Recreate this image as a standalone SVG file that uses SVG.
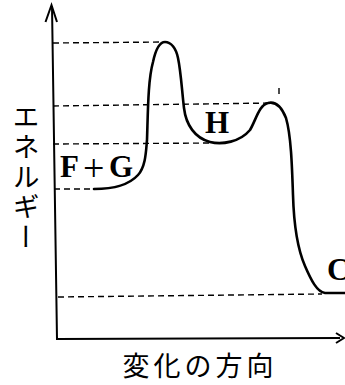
<svg xmlns="http://www.w3.org/2000/svg" width="345" height="385" viewBox="0 0 345 385">
<style>
.axis{stroke:#000;stroke-width:2;fill:none}
.dash{stroke:#000;stroke-width:1.4;stroke-dasharray:6 4;fill:none}
.curve{stroke:#000;stroke-width:2.6;fill:none;stroke-linecap:round;stroke-linejoin:round}
.lbl{font-family:"Liberation Serif","Times New Roman",serif;font-weight:bold;font-size:31px;fill:#000}
.jp{font-family:"Noto Sans CJK JP","Noto Sans CJK SC",sans-serif;font-size:27px;fill:#000}
</style>
<rect width="345" height="385" fill="#fff"/>
<g id="axes">
<path class="axis" d="M52,6 L57,339 L340,338"/>
<path class="axis" d="M45.5,22 L51.5,5 L57,22" stroke-width="1.6"/>
<path class="axis" d="M336,333 L344,338 L336,343" stroke-width="1.3"/>
</g>
<g id="connectors">
<path class="dash" d="M53,43 L164,42"/>
<path class="dash" d="M53,106 L272,103"/>
<path class="dash" d="M53,144 L214,143"/>
<path class="dash" d="M54,189 L98,189"/>
<path class="dash" d="M58,297 L322,294"/>
<path class="dash" d="M279,88 L279,97" stroke-width="1" stroke-dasharray="2 2"/>
</g>
<g id="curve">
<path class="curve" d="M94,189 C112,189 128,186 138,175 C146,166 146,150 147,140 C148,110 148,80 153,62 C156,48 160,42 165,42 C171,42 176,48 178,58 C181,72 182,92 184,108 C186,125 195,138 210,142 C222,145 240,142 250,130 C256,120 259,105 268,103 C276,101 282,108 286,118 C291,135 292,165 293,195 C294,230 298,250 305,266 C311,280 317,292 325,293 L345,293"/>
</g>
<g id="FG"><text class="lbl" y="177"><tspan x="60">F</tspan><tspan x="83" y="181" font-weight="normal" font-size="38px">+</tspan><tspan x="109" y="177">G</tspan></text></g>
<g id="H"><text class="lbl" x="205" y="133">H</text></g>
<g id="C"><text class="lbl" x="327" y="280">C</text></g>
<g id="ylabel"><text class="jp" x="26" y="103" style="writing-mode:vertical-rl" letter-spacing="3">エネルギー</text></g>
<g id="xlabel"><text class="jp" x="200" y="376" text-anchor="middle" letter-spacing="4">変化の方向</text></g>
</svg>
